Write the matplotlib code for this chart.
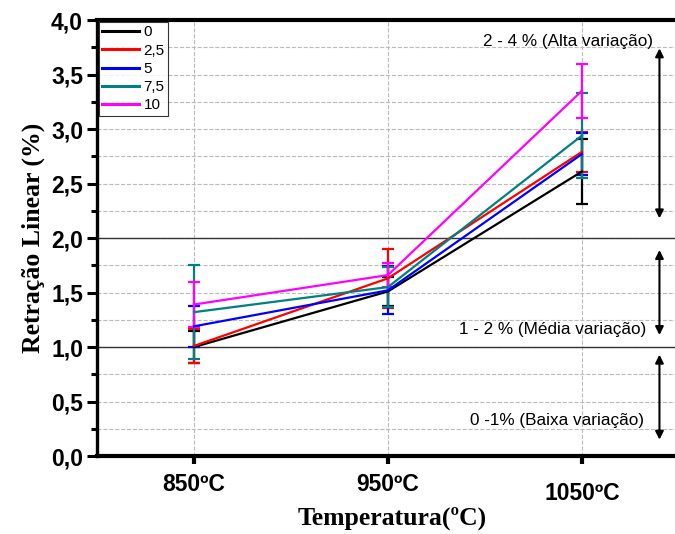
import matplotlib
matplotlib.use('Agg')
from matplotlib import pyplot as plt
from matplotlib.ticker import MultipleLocator, FuncFormatter
from matplotlib.lines import Line2D
import numpy as np

# Temperaturas e teores (legenda)
temps = ['850ºC', '950ºC', '1050ºC']
teores = ['0', '2,5', '5', '7,5', '10']
cores = ['black', 'red', 'blue', '#008080', 'magenta']

# Retracao linear media (%) e desvio para cada teor
r0 = [1.00, 1.51, 2.61]
r25 = [1.01, 1.63, 2.79]
r5 = [1.19, 1.52, 2.77]
r75 = [1.32, 1.55, 2.94]
r10 = [1.39, 1.66, 3.35]
e0 = [0.15, 0.13, 0.30]
e25 = [0.16, 0.27, 0.18]
e5 = [0.19, 0.22, 0.19]
e75 = [0.43, 0.18, 0.39]
e10 = [0.21, 0.11, 0.25]

medias = [r0, r25, r5, r75, r10]
erros = [e0, e25, e5, e75, e10]

fig = plt.figure(figsize=(6.75, 5.34), dpi=100)
ax = fig.add_axes([0.1437, 0.146, 0.862, 0.8165])

x = np.arange(1, len(temps) + 1)
for m, e, c in zip(medias, erros, cores):
    ax.errorbar(x, m, yerr=e, color=c, lw=1.6, elinewidth=1.6, capsize=4.5,
                capthick=1.6)

# faixas de variacao
ax.axhline(1.0, color='#333333', lw=1.0, zorder=1)
ax.axhline(2.0, color='#333333', lw=1.0, zorder=1)

faixas = [(3.74, 2.18, 2.93, 3.80, '2 - 4 % (Alta variação)'),
          (1.89, 1.11, 2.85, 1.16, '1 - 2 % (Média variação)'),
          (0.93, 0.15, 2.87, 0.33, '0 -1% (Baixa variação)')]
for y1, y2, tx, ty, txt in faixas:
    ax.annotate('', xy=(3.40, y1), xytext=(3.40, y2),
                arrowprops=dict(arrowstyle='<|-|>', color='black', lw=1.5,
                                mutation_scale=12, shrinkA=0, shrinkB=0))
    ax.text(tx, ty, txt, ha='center', va='center', fontsize=12.3,
            family='Liberation Sans')

ax.set_xlim(0.5, 3.5)
ax.set_ylim(0, 4.0)
ax.set_xticks(x)
ax.set_xticklabels(temps)
ax.yaxis.set_major_locator(MultipleLocator(0.5))
ax.yaxis.set_minor_locator(MultipleLocator(0.25))
ax.yaxis.set_major_formatter(FuncFormatter(lambda v, p: ('%.1f' % v).replace('.', ',')))

for lbl in ax.get_xticklabels() + ax.get_yticklabels():
    lbl.set_fontweight('bold')
    lbl.set_fontsize(16.5)
    lbl.set_family('Liberation Sans')

ax.tick_params(axis='x', which='major', length=6, width=3, direction='out', pad=6)
ax.tick_params(axis='y', which='major', length=7, width=2.2, direction='out', pad=3)
ax.tick_params(axis='y', which='minor', length=4, width=2.2, direction='out')
ax.xaxis.get_major_ticks()[2].set_pad(13)

ax.grid(True, axis='x', color='#bbbbbb', ls='--', lw=0.8)
ax.grid(True, axis='y', which='both', color='#bbbbbb', ls='--', lw=0.8)
ax.set_axisbelow(True)

ax.spines['right'].set_visible(False)
ax.spines['left'].set_linewidth(2.4)
ax.spines['bottom'].set_linewidth(3.0)
ax.spines['top'].set_linewidth(3.0)

ax.set_xlabel('Temperatura(ºC)', family='Liberation Serif', fontweight='bold',
              fontsize=18.5)
ax.xaxis.set_label_coords(0.508, -0.117)
ax.set_ylabel('Retração Linear (%)', family='Liberation Serif', fontweight='bold',
              fontsize=18.5, labelpad=4)

handles = [Line2D([], [], color=c, lw=2.2) for c in cores]
leg = ax.legend(handles, teores, loc='upper left', frameon=True, fancybox=False,
                edgecolor='black', handlelength=2.4, labelspacing=0.28,
                borderpad=0.2, handletextpad=0.3, borderaxespad=0.15,
                prop={'family': 'Liberation Sans', 'size': 11})
leg.get_frame().set_linewidth(0.8)

plt.savefig('out.png', dpi=100)
